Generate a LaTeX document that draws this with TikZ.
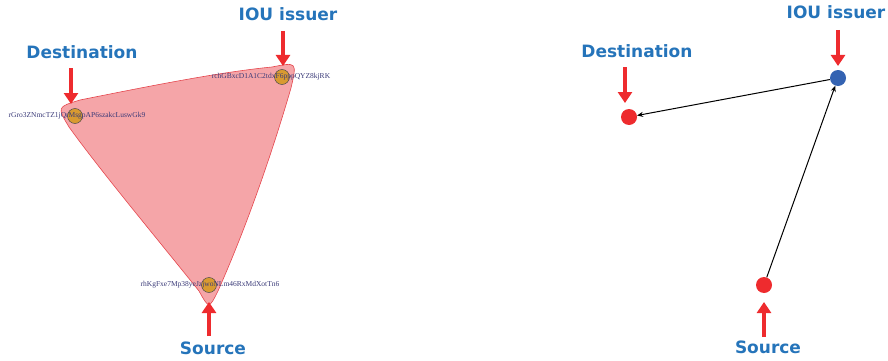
\documentclass[tikz,border=0pt]{standalone}
\usepackage{fontspec}
\setmainfont{Liberation Serif}
\newfontfamily\labelfont{DejaVu Sans}
\usetikzlibrary{arrows.meta}
\definecolor{tagblue}{HTML}{2574BA}
\definecolor{pointred}{HTML}{EE2B2E}
\definecolor{blobfill}{HTML}{F5A5A8}
\definecolor{blobline}{HTML}{E5474E}
\definecolor{nodeorange}{HTML}{D99A30}
\definecolor{addrtext}{HTML}{3A3A78}
\definecolor{issuerblue}{HTML}{3463B2}

\begin{document}
\begin{tikzpicture}[x=1pt,y=-1pt]
		\tikzstyle{tag}=[font=\labelfont\bfseries\fontsize{17}{17}\selectfont,text=tagblue,inner sep=0pt]
		\tikzstyle{pointer}=[draw=pointred,line width=4.5pt,-{Triangle[length=11pt,width=14pt]}]
		\tikzstyle{acct}=[circle,draw=black!70,fill=nodeorange,minimum size=15pt,inner sep=0pt,line width=0.5pt]
		\tikzstyle{addr}=[font=\fontsize{7.5}{7.5}\selectfont,text=addrtext,inner sep=0pt]
		\tikzstyle{dot}=[circle,minimum size=16pt,inner sep=0pt]
		\tikzstyle{hop}=[draw=black,line width=1pt,-{Stealth[length=6pt,width=5pt]}]
		\useasboundingbox (0,0) rectangle (888,361);

		% left: trust graph view
		\fill[blobfill,draw=blobline,line width=0.6pt]
			(80,100) .. controls (150,86) and (220,72) .. (272,67)
			.. controls (297,62) .. (291,88)
			.. controls (270,160) and (245,230) .. (218,291)
			.. controls (209,309) .. (199,291)
			.. controls (150,230) and (100,170) .. (69,127)
			.. controls (57,107) .. (80,100) -- cycle;
		\node[acct](dst) at (75,116) {};
		\node[acct](iou) at (282,77) {};
		\node[acct](src) at (209,285) {};
		\node[addr] at (77,116) {rGro3ZNmcTZ1jQrMsgpAP6szakcLuswGk9};
		\node[addr] at (271,77) {rchGBxcD1A1C2tdxF6pppQYZ8kjRK};
		\node[addr] at (210,285) {rhKgFxe7Mp38yeJzjwoNLm46RxMdXotTn6};

		\node[tag](dstL) at (82,52) {Destination};
		\node[tag](iouL) at (288,14) {IOU issuer};
		\node[tag](srcL) at (213,348) {Source};
		\coordinate (dstA) at (71,68);
		\coordinate (dstB) at (71,104);
		\coordinate (iouA) at (283,31);
		\coordinate (iouB) at (283,66);
		\coordinate (srcA) at (209,336);
		\coordinate (srcB) at (209,302);
		\draw[pointer] (dstA) -- (dstB);
		\draw[pointer] (iouA) -- (iouB);
		\draw[pointer] (srcA) -- (srcB);

		% right: payment path view
		\node[dot,fill=pointred](dst2) at (629,117) {};
		\node[dot,fill=issuerblue](iou2) at (838,78) {};
		\node[dot,fill=pointred](src2) at (764,285) {};
		\draw[hop] (src2) -- (iou2);
		\draw[hop] (iou2) -- (dst2);

		\node[tag](dst2L) at (637,51) {Destination};
		\node[tag](iou2L) at (836,12) {IOU issuer};
		\node[tag](src2L) at (768,347) {Source};
		\coordinate (dst2A) at (625,67);
		\coordinate (dst2B) at (625,103);
		\coordinate (iou2A) at (838,30);
		\coordinate (iou2B) at (838,66);
		\coordinate (src2A) at (764,337);
		\coordinate (src2B) at (764,302);
		\draw[pointer] (dst2A) -- (dst2B);
		\draw[pointer] (iou2A) -- (iou2B);
		\draw[pointer] (src2A) -- (src2B);
\end{tikzpicture}
\end{document}
